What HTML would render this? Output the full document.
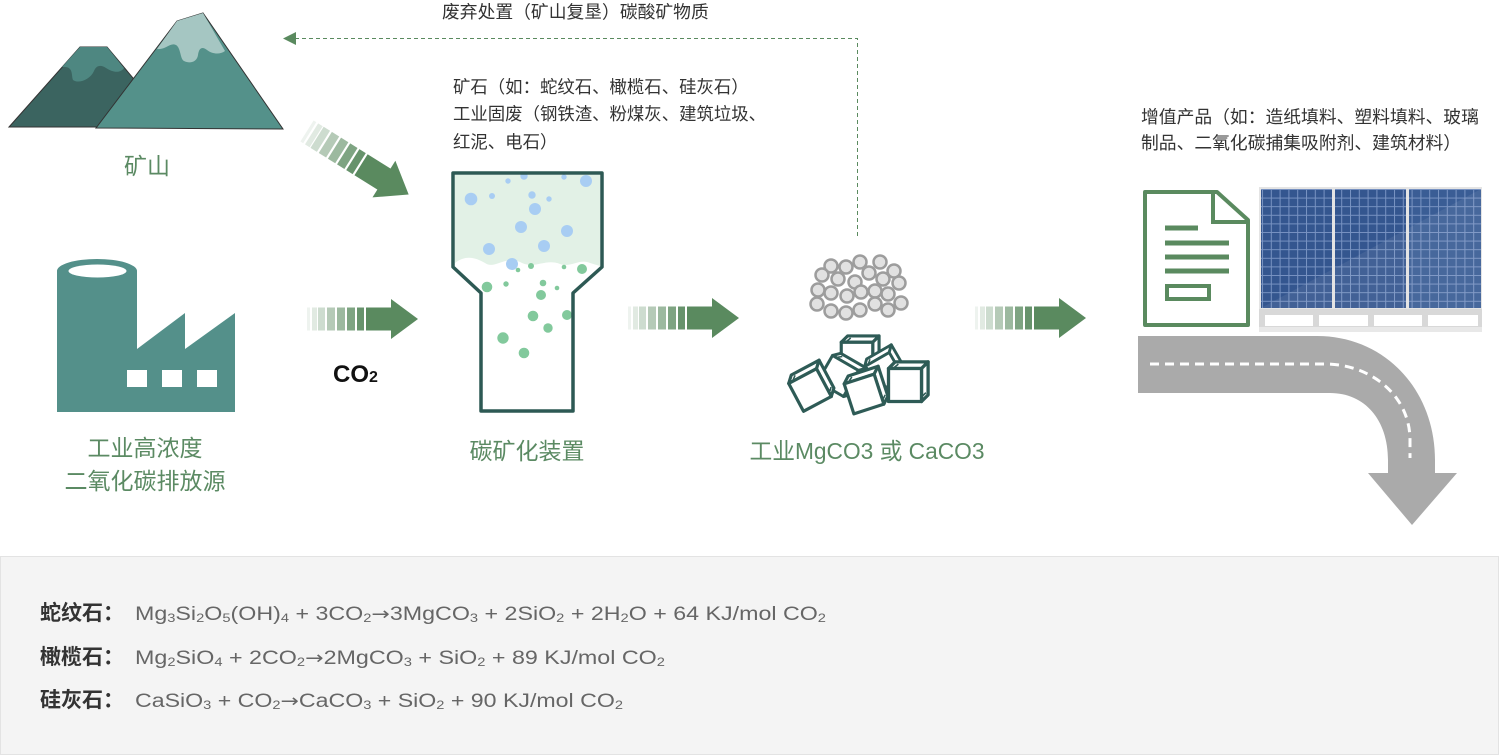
<!DOCTYPE html>
<html><head><meta charset="utf-8"><style>
html,body{margin:0;padding:0;background:#fff;width:1500px;height:756px;overflow:hidden}
svg{display:block}
text{font-family:"Liberation Sans","Noto Sans CJK SC",sans-serif}
.s{fill:#333}
.g{fill:#5b8a63;font-size:23px;text-anchor:middle}
.eq{fill:#666;font-size:19px}
.ar{font-family:"DejaVu Sans",sans-serif;font-size:18px}
.lb{fill:#333;font-size:21px;font-weight:bold}
</style></head><body>
<svg width="1500" height="756" viewBox="0 0 1500 756" xmlns="http://www.w3.org/2000/svg">
<defs>
<g id="arr">
<rect x="0" y="-11.5" width="3" height="23" fill="#5a8a5f" opacity=".1"/>
<rect x="5" y="-11.5" width="5" height="23" fill="#5a8a5f" opacity=".18"/>
<rect x="11" y="-11.5" width="7" height="23" fill="#5a8a5f" opacity=".3"/>
<rect x="20" y="-11.5" width="8" height="23" fill="#5a8a5f" opacity=".45"/>
<rect x="30" y="-11.5" width="8" height="23" fill="#5a8a5f" opacity=".6"/>
<rect x="40" y="-11.5" width="8" height="23" fill="#5a8a5f" opacity=".78"/>
<rect x="50" y="-11.5" width="7" height="23" fill="#5a8a5f" opacity=".92"/>
<rect x="59" y="-11.5" width="26" height="23" fill="#5a8a5f"/>
<polygon points="84,-20 111,0 84,20" fill="#5a8a5f"/>
</g>
<g id="cube" fill="#fff" stroke="#2e5b56" stroke-width="3" stroke-linejoin="round">
<path d="M-15,-15 L-9,-21 L21,-21 L15,-15 Z"/>
<path d="M15,-15 L21,-21 L21,9 L15,15 Z"/>
<rect x="-15" y="-15" width="30" height="30"/>
<path d="M-11,-15 L-6,-19 M15,11 L19,7" stroke-width="1.5"/>
</g>
<pattern id="grid" x="1262" y="189" width="8.8" height="8.6" patternUnits="userSpaceOnUse">
<path d="M0,0.5 H8.8 M0.5,0 V8.6" stroke="#8ea6d2" stroke-width="1" fill="none" opacity=".75"/>
</pattern>
<g id="pt"><circle r="6.5" fill="#e1e1e1" stroke="#9d9d9d" stroke-width="2.5"/></g>
</defs>

<!-- mountains -->
<polygon points="9,127 80,47 107,47 174,127" fill="#3b6460" stroke="#333" stroke-width="1"/>
<path d="M62,67 L80,47 L107,47 L124,68 C120,74 112,72 106,68 C100,64 96,66 94,71 C90,80 78,84 73,80 C71,75 74,66 62,67 Z" fill="#4e8781"/>
<polygon points="96,128 177,21 203,13 283,129" fill="#54918a" stroke="#333" stroke-width="1"/>
<path d="M157,49 L177,21 L203,13 L225,51 C220,55 212,54 207,50 C202,46 199,48 198,55 C197,62 190,64 184,61 C180,59 181,48 176,45 C170,42 166,50 157,49 Z" fill="#a5c6c2"/>
<text x="147" y="174" class="g">矿山</text>

<!-- dashed return arrow -->
<path d="M295,38.5 H857.5 V238" fill="none" stroke="#5a8a5f" stroke-width="1" stroke-dasharray="4 3"/>
<polygon points="283,38.5 296,32 296,45" fill="#5a8a5f"/>
<text x="442" y="18" class="s" font-size="17.8">废弃处置（矿山复垦）碳酸矿物质</text>

<!-- ore text -->
<text x="453" y="93" class="s" font-size="17.4">矿石（如：蛇纹石、橄榄石、硅灰石）</text>
<text x="453" y="120" class="s" font-size="17.4">工业固废（钢铁渣、粉煤灰、建筑垃圾、</text>
<text x="453" y="148" class="s" font-size="17.4">红泥、电石）</text>

<!-- arrows -->
<use href="#arr" transform="translate(307,131) rotate(32) scale(1.08)"/>
<use href="#arr" transform="translate(307,319)"/>
<use href="#arr" transform="translate(628,318)"/>
<use href="#arr" transform="translate(975,318)"/>

<!-- factory -->
<path d="M57,412 L57,271 A40,12 0 0 1 137,271 L137,349 L185,313 L185,349 L235,313 L235,412 Z" fill="#54908a"/>
<ellipse cx="97.5" cy="271" rx="29" ry="6.5" fill="#fff"/>
<rect x="127" y="370" width="20" height="17" fill="#fff"/>
<rect x="162" y="370" width="20" height="17" fill="#fff"/>
<rect x="197" y="370" width="20" height="17" fill="#fff"/>
<text x="145" y="456" class="g">工业高浓度</text>
<text x="145" y="489" class="g">二氧化碳排放源</text>

<text x="333" y="382" font-size="24" font-weight="bold" fill="#111">CO<tspan font-size="16">2</tspan></text>

<!-- reactor -->
<path d="M455,175 L600,175 L600,266 L590,263 C580,258 570,268 560,264 C545,258 535,270 520,262 C505,255 495,270 485,263 C475,257 465,255 455,263 Z" fill="#e2f1e6"/>
<g fill="#a8cdf3">
<circle cx="524" cy="176" r="3.7"/><circle cx="508" cy="181" r="2.7"/><circle cx="564" cy="177" r="2.7"/>
<circle cx="586" cy="181" r="6"/><circle cx="471" cy="199" r="6.3"/><circle cx="492" cy="196" r="3"/>
<circle cx="532" cy="195" r="3.7"/><circle cx="549" cy="199" r="2.7"/><circle cx="535" cy="209" r="6"/>
<circle cx="521" cy="227" r="6"/><circle cx="567" cy="231" r="6"/><circle cx="489" cy="249" r="6"/>
<circle cx="544" cy="246" r="6"/><circle cx="512" cy="264" r="6"/>
</g>
<g fill="#82c99c">
<circle cx="518" cy="270" r="2.3"/><circle cx="531" cy="266" r="3"/><circle cx="564" cy="267" r="2.3"/>
<circle cx="582" cy="269" r="5"/><circle cx="487" cy="287" r="5.3"/><circle cx="506" cy="284" r="2.7"/>
<circle cx="543" cy="283" r="3.3"/><circle cx="557" cy="288" r="2.3"/><circle cx="541" cy="295" r="5"/>
<circle cx="533" cy="316" r="5.3"/><circle cx="567" cy="315" r="5"/><circle cx="548" cy="328" r="4.7"/>
<circle cx="503" cy="338" r="5.7"/><circle cx="524" cy="353" r="5.3"/>
</g>
<path d="M453,173 L602,173 L602,267 L573,293 L573,411 L481,411 L481,293 L453,267 Z" fill="none" stroke="#2d5954" stroke-width="3.5" stroke-linejoin="round"/>
<text x="527" y="459" class="g">碳矿化装置</text>

<!-- particles -->
<g>
<use href="#pt" x="831" y="266"/><use href="#pt" x="846" y="267"/><use href="#pt" x="860" y="262"/><use href="#pt" x="880" y="262"/><use href="#pt" x="894" y="271"/>
<use href="#pt" x="822" y="275"/><use href="#pt" x="838" y="279"/><use href="#pt" x="855" y="282"/><use href="#pt" x="869" y="273"/><use href="#pt" x="883" y="279"/><use href="#pt" x="899" y="283"/>
<use href="#pt" x="818" y="290"/><use href="#pt" x="831" y="293"/><use href="#pt" x="847" y="296"/><use href="#pt" x="861" y="292"/><use href="#pt" x="875" y="291"/><use href="#pt" x="888" y="294"/>
<use href="#pt" x="817" y="304"/><use href="#pt" x="831" y="311"/><use href="#pt" x="846" y="313"/><use href="#pt" x="860" y="310"/><use href="#pt" x="875" y="304"/><use href="#pt" x="888" y="310"/><use href="#pt" x="901" y="303"/>
</g>
<!-- cubes -->
<use href="#cube" transform="translate(857,358) scale(1.05)"/>
<use href="#cube" transform="translate(884,372) rotate(-30) scale(.95)"/>
<use href="#cube" transform="translate(838,376) rotate(30)"/>
<use href="#cube" transform="translate(810,390) rotate(-28) scale(1.05)"/>
<use href="#cube" transform="translate(905,385) scale(1.1)"/>
<use href="#cube" transform="translate(864,394) rotate(-18) scale(1.05)"/>
<text x="867" y="459" class="g" textLength="235" lengthAdjust="spacingAndGlyphs">工业MgCO3 或 CaCO3</text>

<!-- right block -->
<text x="1141" y="123" class="s" font-size="17.8">增值产品（如：造纸填料、塑料填料、玻璃</text>
<text x="1141" y="149" class="s" font-size="17.8">制品、二氧化碳捕集吸附剂、建筑材料）</text>

<!-- document -->
<path d="M1145,192 L1217,192 L1248,220 L1248,325 L1145,325 Z" fill="#fff" stroke="#5a8a5f" stroke-width="4" stroke-linejoin="round"/>
<path d="M1213,192 L1213,222 L1248,222" fill="none" stroke="#5a8a5f" stroke-width="4"/>
<g stroke="#5a8a5f" stroke-width="5">
<path d="M1165,228 H1198 M1165,243 H1229 M1165,257 H1229 M1165,271 H1229"/>
</g>
<rect x="1167" y="286" width="42" height="13" fill="none" stroke="#5a8a5f" stroke-width="4"/>

<!-- solar panels -->
<rect x="1259" y="187" width="223" height="145" fill="#e4e4e4"/>
<rect x="1261" y="189" width="71" height="119" fill="#34568f"/>
<rect x="1335" y="189" width="71" height="119" fill="#34568f"/>
<rect x="1409" y="189" width="72" height="119" fill="#3a5d95"/>
<rect x="1261" y="189" width="220" height="119" fill="url(#grid)"/>
<polygon points="1261,308 1481,189 1481,308" fill="#fff" opacity=".07"/>
<rect x="1332" y="189" width="3" height="119" fill="#e4e4e4"/>
<rect x="1406" y="189" width="3" height="119" fill="#e4e4e4"/>
<rect x="1259" y="309" width="223" height="23" fill="#d8d8d8"/>
<rect x="1265" y="315" width="48" height="11" fill="#fff"/>
<rect x="1319" y="315" width="49" height="11" fill="#fff"/>
<rect x="1374" y="315" width="48" height="11" fill="#fff"/>
<rect x="1428" y="315" width="50" height="11" fill="#fff"/>
<rect x="1259" y="327" width="223" height="5" fill="#e8e8e8"/>

<!-- road -->
<path d="M1138,336 L1317,336 C1385,336 1435,390 1435,460 L1435,473 L1457,473 L1412,525 L1368,473 L1388,473 L1388,460 C1388,420 1365,393 1330,393 L1138,393 Z" fill="#aaaaaa"/>
<path d="M1150,364 L1325,364 C1370,364 1410,395 1410,440 L1410,458" fill="none" stroke="#fff" stroke-width="3" stroke-dasharray="9 6"/>

<!-- bottom panel -->
<rect x="0.5" y="556.5" width="1498" height="198" fill="#f4f4f4" stroke="#e3e3e3" stroke-width="1"/>
<text x="40" y="620" class="lb">蛇纹石：</text>
<text x="135" y="620" class="eq" textLength="691" lengthAdjust="spacingAndGlyphs">Mg<tspan font-size="12" dy="2">3</tspan><tspan dy="-2">Si</tspan><tspan font-size="12" dy="2">2</tspan><tspan dy="-2">O</tspan><tspan font-size="12" dy="2">5</tspan><tspan dy="-2">(OH)</tspan><tspan font-size="12" dy="2">4</tspan><tspan dy="-2"> + 3CO</tspan><tspan font-size="12" dy="2">2</tspan><tspan dy="-2" class="ar">→</tspan><tspan>3MgCO</tspan><tspan font-size="12" dy="2">3</tspan><tspan dy="-2"> + 2SiO</tspan><tspan font-size="12" dy="2">2</tspan><tspan dy="-2"> + 2H</tspan><tspan font-size="12" dy="2">2</tspan><tspan dy="-2">O + 64 KJ/mol CO</tspan><tspan font-size="12" dy="2">2</tspan></text>
<text x="40" y="664" class="lb">橄榄石：</text>
<text x="135" y="664" class="eq" textLength="530" lengthAdjust="spacingAndGlyphs">Mg<tspan font-size="12" dy="2">2</tspan><tspan dy="-2">SiO</tspan><tspan font-size="12" dy="2">4</tspan><tspan dy="-2"> + 2CO</tspan><tspan font-size="12" dy="2">2</tspan><tspan dy="-2" class="ar">→</tspan><tspan>2MgCO</tspan><tspan font-size="12" dy="2">3</tspan><tspan dy="-2"> + SiO</tspan><tspan font-size="12" dy="2">2</tspan><tspan dy="-2"> + 89 KJ/mol CO</tspan><tspan font-size="12" dy="2">2</tspan></text>
<text x="40" y="707" class="lb">硅灰石：</text>
<text x="135" y="707" class="eq" textLength="488" lengthAdjust="spacingAndGlyphs">CaSiO<tspan font-size="12" dy="2">3</tspan><tspan dy="-2"> + CO</tspan><tspan font-size="12" dy="2">2</tspan><tspan dy="-2" class="ar">→</tspan><tspan>CaCO</tspan><tspan font-size="12" dy="2">3</tspan><tspan dy="-2"> + SiO</tspan><tspan font-size="12" dy="2">2</tspan><tspan dy="-2"> + 90 KJ/mol CO</tspan><tspan font-size="12" dy="2">2</tspan></text>
</svg>
</body></html>
